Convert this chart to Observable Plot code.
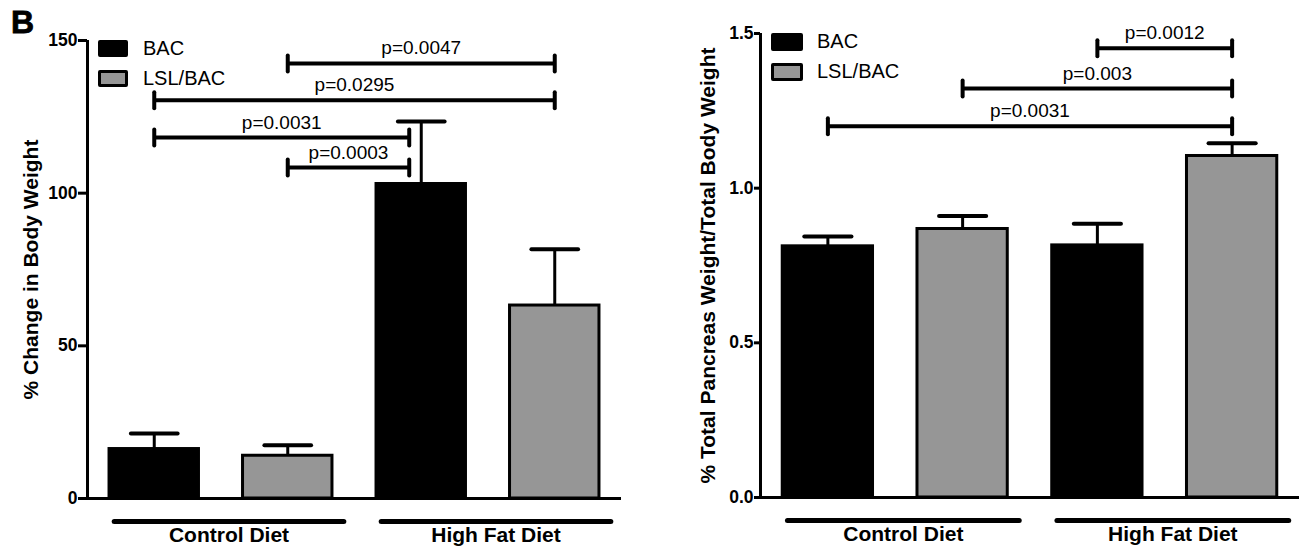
<!DOCTYPE html>
<html><head><meta charset="utf-8">
<script src="https://cdn.jsdelivr.net/npm/d3@7"></script>
<script src="https://cdn.jsdelivr.net/npm/@observablehq/plot@0.6"></script>
<style>
body{margin:0;background:#fff;font-family:"Liberation Sans",Arial,sans-serif;}
#fig{position:relative;width:1310px;height:554px;overflow:hidden;background:#fff;}
.panel{position:absolute;top:0;}
.sw{position:absolute;box-sizing:border-box;border:3px solid #000;border-radius:2px;}
.lt{position:absolute;font-size:20px;line-height:1;color:#000;white-space:nowrap;}
.tag{position:absolute;left:11px;top:6px;font-size:32px;font-weight:900;line-height:1;-webkit-text-stroke:0.8px #000;}
</style></head><body><div id="fig"></div>
<script>
// ---------- data ----------
const genotypes = ["BAC", "LSL/BAC"];
const diets = ["Control Diet", "High Fat Diet"];
const barDiet = ["Control Diet", "Control Diet", "High Fat Diet", "High Fat Diet"];
const barGenotype = ["BAC", "LSL/BAC", "BAC", "LSL/BAC"];

// Panel 1: % change in body weight
const bodyMean = [16.2, 14.0, 103.0, 63.2];
const bodySem = [5.1, 3.4, 20.5, 18.4];
const bodyTicks = [0, 50, 100, 150];
const bodyBracketFrom = [1, 0, 0, 1];
const bodyBracketTo = [3, 3, 2, 2];
const bodyBracketY = [142.5, 130.4, 118.2, 108.4];
const bodyBracketP = ["p=0.0047", "p=0.0295", "p=0.0031", "p=0.0003"];

// Panel 2: % total pancreas weight / total body weight
const pancMean = [0.812, 0.868, 0.815, 1.104];
const pancSem = [0.032, 0.042, 0.07, 0.041];
const pancTicks = [0, 0.5, 1.0, 1.5];
const pancBracketFrom = [2, 1, 0];
const pancBracketTo = [3, 3, 3];
const pancBracketY = [1.452, 1.322, 1.2];
const pancBracketP = ["p=0.0012", "p=0.003", "p=0.0031"];

// ---------- drawing ----------
const FONT = '"Liberation Sans", Arial, Helvetica, sans-serif';
const vbar = {draw(ctx, size) { const r = Math.sqrt(size / Math.PI); ctx.moveTo(0, -r); ctx.lineTo(0, r); }};

function chart(o) {
  const xDomain = [-0.5, 3.5];
  const half = 0.335, capHalf = 0.175;
  const rows = o.means.map((m, i) => ({i, diet: barDiet[i], genotype: barGenotype[i], mean: m, upper: m + o.sems[i]}));
  const brackets = o.bp.map((p, k) => {
    const from = o.bf[k], to = o.bt[k], y = o.by[k];
    const clash = y < rows[to].upper;
    return {p, y, x1: from, x2: to - (clash ? 0.09 : 0)};
  });
  const ends = brackets.flatMap(b => [{x: b.x1, y: b.y}, {x: b.x2, y: b.y}]);
  const groups = diets.map(d => {
    const idx = rows.filter(r => r.diet === d).map(r => r.i);
    return {diet: d, x1: d3.min(idx) - 0.3, x2: d3.max(idx) + 0.42};
  });
  const y0 = o.yDomain[0];
  return Plot.plot({
    width: 655, height: 554,
    marginLeft: o.ml, marginRight: o.mr, marginTop: o.mt, marginBottom: o.mb,
    x: {domain: xDomain, axis: null},
    y: {domain: o.yDomain, axis: null},
    color: {domain: genotypes, range: ["#000000", "#969696"]},
    style: {fontFamily: FONT, overflow: "visible", background: "transparent", color: "#000"},
    marks: [
      Plot.rectY(rows, {x1: d => d.i - half, x2: d => d.i + half, y1: y0, y2: "mean", fill: "genotype", stroke: "#000", strokeWidth: 3}),
      Plot.link(rows, {x1: "i", x2: "i", y1: "mean", y2: "upper", stroke: "#000", strokeWidth: 3}),
      Plot.link(rows, {x1: d => d.i - capHalf, x2: d => d.i + capHalf, y1: "upper", y2: "upper", stroke: "#000", strokeWidth: 4, strokeLinecap: "round"}),
      Plot.ruleY([y0], {stroke: "#000", strokeWidth: 3}),
      Plot.ruleX([xDomain[0]], {y1: o.yDomain[0], y2: o.yDomain[1], stroke: "#000", strokeWidth: 3}),
      Plot.axisY({ticks: o.ticks, tickSize: o.tickSize, tickPadding: 1, tickFormat: o.fmt, fontSize: 17.5, fontWeight: "bold", strokeWidth: 3, label: null}),
      Plot.link(brackets, {x1: "x1", x2: "x2", y1: "y", y2: "y", stroke: "#000", strokeWidth: 4}),
      Plot.dot(ends, {x: "x", y: "y", r: 8, symbol: vbar, stroke: "#000", strokeWidth: 4, fill: "none", strokeLinecap: "round"}),
      Plot.text(brackets, {x: d => (d.x1 + d.x2) / 2, y: "y", text: "p", dy: -15, fontSize: 19, fill: "#000"}),
      Plot.link(groups, {x1: "x1", x2: "x2", y1: () => y0, y2: () => y0, dy: 23, stroke: "#000", strokeWidth: 5, strokeLinecap: "round"}),
      Plot.text(groups, {x: d => (d.x1 + d.x2) / 2, y: () => y0, text: "diet", dy: 37, fontSize: 21, fontWeight: "bold", fill: "#000"}),
      Plot.text([o.title], {frameAnchor: "left", textAnchor: "middle", rotate: -90, dx: o.titleDx, fontSize: 21, fontWeight: "bold", fill: "#000"})
    ]
  });
}

const fig = document.getElementById("fig");

const p1 = chart({means: bodyMean, sems: bodySem, bf: bodyBracketFrom, bt: bodyBracketTo, by: bodyBracketY, bp: bodyBracketP,
  yDomain: [0, 150], ticks: bodyTicks, fmt: d3.format("d"), tickSize: 9,
  ml: 87, mr: 34, mt: 40, mb: 56, titleDx: -56, title: "% Change in Body Weight"});
const p2 = chart({means: pancMean, sems: pancSem, bf: pancBracketFrom, bt: pancBracketTo, by: pancBracketY, bp: pancBracketP,
  yDomain: [0, 1.5], ticks: pancTicks, fmt: d3.format(".1f"), tickSize: 6,
  ml: 105, mr: 11, mt: 33, mb: 57, titleDx: -52, title: "% Total Pancreas Weight/Total Body Weight"});

const w1 = document.createElement("div"); w1.className = "panel"; w1.style.left = "0px"; w1.appendChild(p1); fig.appendChild(w1);
const w2 = document.createElement("div"); w2.className = "panel"; w2.style.left = "655px"; w2.appendChild(p2); fig.appendChild(w2);

// legends & panel tag (HTML overlays)
function legend(x, y, sw, sh, tx, gap) {
  genotypes.forEach((g, k) => {
    const s = document.createElement("div"); s.className = "sw";
    s.style.left = x + "px"; s.style.top = (y + k * gap) + "px";
    s.style.width = sw + "px"; s.style.height = sh + "px";
    s.style.background = k === 0 ? "#000" : "#969696";
    fig.appendChild(s);
    const t = document.createElement("div"); t.className = "lt"; t.textContent = g;
    t.style.left = tx + "px"; t.style.top = (y - 2 + k * gap) + "px";
    fig.appendChild(t);
  });
}
legend(98, 40, 30, 17, 143, 30);
legend(771, 33, 32, 18, 817, 30);
const tag = document.createElement("div"); tag.className = "tag"; tag.textContent = "B"; fig.appendChild(tag);
</script></body></html>
